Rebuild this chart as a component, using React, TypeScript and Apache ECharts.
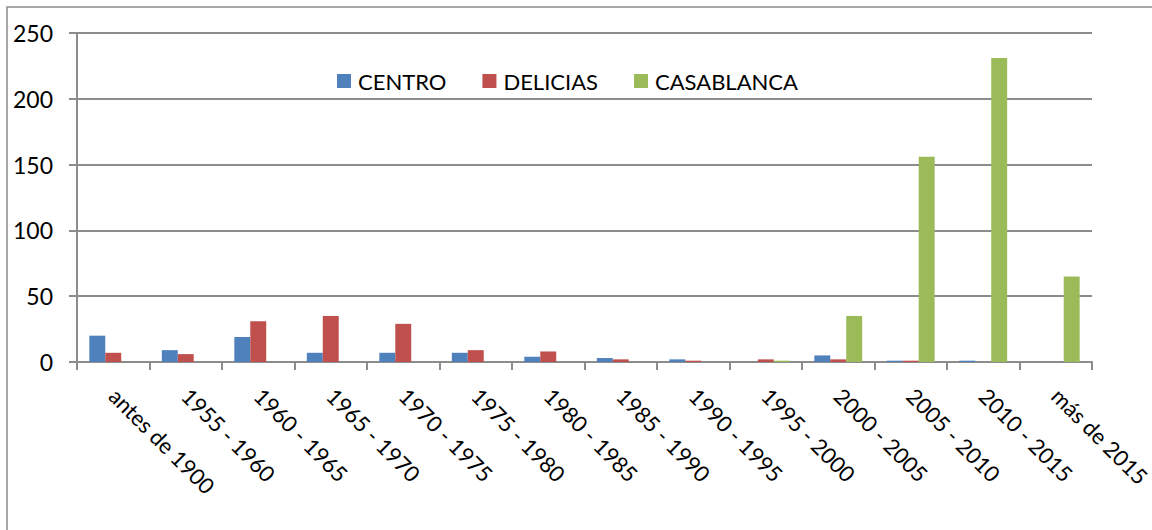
import React, { useEffect, useRef } from "react";
import * as echarts from "echarts";

const categories = [
  "antes de 1900",
  "1955 - 1960",
  "1960 - 1965",
  "1965 - 1970",
  "1970 - 1975",
  "1975 - 1980",
  "1980 - 1985",
  "1985 - 1990",
  "1990 - 1995",
  "1995 - 2000",
  "2000 - 2005",
  "2005 - 2010",
  "2010 - 2015",
  "más de 2015",
];
const centro = [20, 9, 19, 7, 7, 7, 4, 3, 2, 0, 5, 1, 1, 0];
const delicias = [7, 6, 31, 35, 29, 9, 8, 2, 1, 2, 2, 1, 0, 0];
const casablanca = [0, 0, 0, 0, 0, 0, 0, 0, 0, 1, 35, 156, 231, 65];
const yTicks = { min: 0, max: 250, interval: 50 };

const FONT = "Lato";

export default function App() {
  const ref = useRef<HTMLDivElement>(null);
  useEffect(() => {
    document.body.style.margin = "0";
    const chart = echarts.init(ref.current!, null, { renderer: "svg" });
    const bar = (name: string, data: number[], color: string) => ({
      name,
      type: "bar",
      data,
      itemStyle: { color },
      barGap: "0%",
      barCategoryGap: "34%",
    });
    chart.setOption({
      animation: false,
      backgroundColor: "#ffffff",
      textStyle: { fontFamily: FONT },
      graphic: [
        {
          type: "rect",
          shape: { x: 7, y: 7, width: 1200, height: 600 },
          style: { fill: "none", stroke: "#8c8c8c", lineWidth: 1.5 },
          silent: true,
          z: -1,
        },
      ],
      legend: {
        left: 337,
        top: 70,
        padding: 0,
        icon: "rect",
        itemWidth: 14,
        itemHeight: 14,
        itemGap: 36,
        textStyle: {
          fontFamily: FONT,
          fontSize: 22,
          color: "#000",
          padding: [0, 0, 0, 2],
        },
        data: ["CENTRO", "DELICIAS", "CASABLANCA"],
      },
      grid: {
        left: 77,
        right: 60,
        top: 33,
        bottom: 168,
        containLabel: false,
        outerBoundsMode: "none",
      },
      xAxis: {
        type: "category",
        data: categories,
        boundaryGap: true,
        axisLine: { show: true, lineStyle: { color: "#8c8c8c", width: 2 } },
        axisTick: {
          show: true,
          alignWithLabel: false,
          length: 8,
          lineStyle: { color: "#8c8c8c", width: 2 },
        },
        axisLabel: {
          rotate: -45,
          interval: 0,
          margin: 30,
          fontFamily: FONT,
          fontSize: 22,
          color: "#000",
        },
      },
      yAxis: {
        type: "value",
        min: yTicks.min,
        max: yTicks.max,
        interval: yTicks.interval,
        axisLine: { show: true, lineStyle: { color: "#8c8c8c", width: 2 } },
        axisTick: {
          show: true,
          length: 8,
          lineStyle: { color: "#8c8c8c", width: 2 },
        },
        splitLine: { show: true, lineStyle: { color: "#8c8c8c", width: 2 } },
        axisLabel: {
          margin: 24,
          fontFamily: FONT,
          fontSize: 23,
          color: "#000",
        },
      },
      series: [
        bar("CENTRO", centro, "#4F81BD"),
        bar("DELICIAS", delicias, "#C0504D"),
        bar("CASABLANCA", casablanca, "#9BBB59"),
      ],
    });
    return () => chart.dispose();
  }, []);
  return <div ref={ref} style={{ width: 1152, height: 530 }} />;
}
